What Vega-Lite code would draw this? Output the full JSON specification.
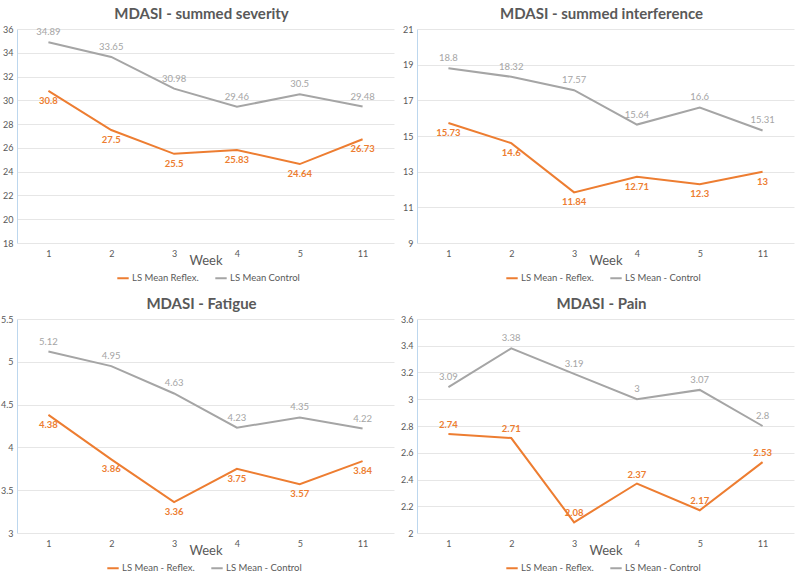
{
  "$schema": "https://vega.github.io/schema/vega-lite/v6.json",
  "background": "white",
  "padding": {"left": 0, "top": 7, "right": 2, "bottom": 4},
  "config": {
    "font": "Lato",
    "view": {"stroke": null},
    "axisY": {"grid": true, "gridColor": "#e6e6e6", "domainColor": "#bdd7ee", "ticks": false, "labelFontSize": 9, "labelColor": "#595959", "labelPadding": 4, "title": null, "format": "~g"},
    "axisX": {"grid": false, "domain": false, "ticks": false, "labelFontSize": 9, "labelColor": "#595959", "labelPadding": 6, "labelAngle": 0, "titleFontSize": 13, "titleFontWeight": "normal", "titleColor": "#595959", "titlePadding": -4},
    "title": {"fontSize": 15, "fontWeight": "bold", "color": "#595959", "offset": 3, "dx": -4},
    "legend": {"orient": "none", "direction": "horizontal", "symbolType": "stroke", "symbolSize": 130, "symbolStrokeWidth": 2, "labelFontSize": 9.5, "labelColor": "#595959", "labelOffset": 2, "title": null, "columnPadding": 12, "legendY": 242}
  },
  "datasets": {
    "mdasi": [
      {"panel": 1, "week": "1", "grp": "Reflex", "series": "LS Mean Reflex.", "value": 30.8},
      {"panel": 1, "week": "2", "grp": "Reflex", "series": "LS Mean Reflex.", "value": 27.5},
      {"panel": 1, "week": "3", "grp": "Reflex", "series": "LS Mean Reflex.", "value": 25.5},
      {"panel": 1, "week": "4", "grp": "Reflex", "series": "LS Mean Reflex.", "value": 25.83},
      {"panel": 1, "week": "5", "grp": "Reflex", "series": "LS Mean Reflex.", "value": 24.64},
      {"panel": 1, "week": "11", "grp": "Reflex", "series": "LS Mean Reflex.", "value": 26.73},
      {"panel": 1, "week": "1", "grp": "Control", "series": "LS Mean Control", "value": 34.89},
      {"panel": 1, "week": "2", "grp": "Control", "series": "LS Mean Control", "value": 33.65},
      {"panel": 1, "week": "3", "grp": "Control", "series": "LS Mean Control", "value": 30.98},
      {"panel": 1, "week": "4", "grp": "Control", "series": "LS Mean Control", "value": 29.46},
      {"panel": 1, "week": "5", "grp": "Control", "series": "LS Mean Control", "value": 30.5},
      {"panel": 1, "week": "11", "grp": "Control", "series": "LS Mean Control", "value": 29.48},
      {"panel": 2, "week": "1", "grp": "Reflex", "series": "LS Mean - Reflex.", "value": 15.73},
      {"panel": 2, "week": "2", "grp": "Reflex", "series": "LS Mean - Reflex.", "value": 14.6},
      {"panel": 2, "week": "3", "grp": "Reflex", "series": "LS Mean - Reflex.", "value": 11.84},
      {"panel": 2, "week": "4", "grp": "Reflex", "series": "LS Mean - Reflex.", "value": 12.71},
      {"panel": 2, "week": "5", "grp": "Reflex", "series": "LS Mean - Reflex.", "value": 12.3},
      {"panel": 2, "week": "11", "grp": "Reflex", "series": "LS Mean - Reflex.", "value": 13},
      {"panel": 2, "week": "1", "grp": "Control", "series": "LS Mean - Control", "value": 18.8},
      {"panel": 2, "week": "2", "grp": "Control", "series": "LS Mean - Control", "value": 18.32},
      {"panel": 2, "week": "3", "grp": "Control", "series": "LS Mean - Control", "value": 17.57},
      {"panel": 2, "week": "4", "grp": "Control", "series": "LS Mean - Control", "value": 15.64},
      {"panel": 2, "week": "5", "grp": "Control", "series": "LS Mean - Control", "value": 16.6},
      {"panel": 2, "week": "11", "grp": "Control", "series": "LS Mean - Control", "value": 15.31},
      {"panel": 3, "week": "1", "grp": "Reflex", "series": "LS Mean - Reflex.", "value": 4.38},
      {"panel": 3, "week": "2", "grp": "Reflex", "series": "LS Mean - Reflex.", "value": 3.86},
      {"panel": 3, "week": "3", "grp": "Reflex", "series": "LS Mean - Reflex.", "value": 3.36},
      {"panel": 3, "week": "4", "grp": "Reflex", "series": "LS Mean - Reflex.", "value": 3.75},
      {"panel": 3, "week": "5", "grp": "Reflex", "series": "LS Mean - Reflex.", "value": 3.57},
      {"panel": 3, "week": "11", "grp": "Reflex", "series": "LS Mean - Reflex.", "value": 3.84},
      {"panel": 3, "week": "1", "grp": "Control", "series": "LS Mean - Control", "value": 5.12},
      {"panel": 3, "week": "2", "grp": "Control", "series": "LS Mean - Control", "value": 4.95},
      {"panel": 3, "week": "3", "grp": "Control", "series": "LS Mean - Control", "value": 4.63},
      {"panel": 3, "week": "4", "grp": "Control", "series": "LS Mean - Control", "value": 4.23},
      {"panel": 3, "week": "5", "grp": "Control", "series": "LS Mean - Control", "value": 4.35},
      {"panel": 3, "week": "11", "grp": "Control", "series": "LS Mean - Control", "value": 4.22},
      {"panel": 4, "week": "1", "grp": "Reflex", "series": "LS Mean - Reflex.", "value": 2.74},
      {"panel": 4, "week": "2", "grp": "Reflex", "series": "LS Mean - Reflex.", "value": 2.71},
      {"panel": 4, "week": "3", "grp": "Reflex", "series": "LS Mean - Reflex.", "value": 2.08},
      {"panel": 4, "week": "4", "grp": "Reflex", "series": "LS Mean - Reflex.", "value": 2.37},
      {"panel": 4, "week": "5", "grp": "Reflex", "series": "LS Mean - Reflex.", "value": 2.17},
      {"panel": 4, "week": "11", "grp": "Reflex", "series": "LS Mean - Reflex.", "value": 2.53},
      {"panel": 4, "week": "1", "grp": "Control", "series": "LS Mean - Control", "value": 3.09},
      {"panel": 4, "week": "2", "grp": "Control", "series": "LS Mean - Control", "value": 3.38},
      {"panel": 4, "week": "3", "grp": "Control", "series": "LS Mean - Control", "value": 3.19},
      {"panel": 4, "week": "4", "grp": "Control", "series": "LS Mean - Control", "value": 3},
      {"panel": 4, "week": "5", "grp": "Control", "series": "LS Mean - Control", "value": 3.07},
      {"panel": 4, "week": "11", "grp": "Control", "series": "LS Mean - Control", "value": 2.8}
    ]
  },
  "concat": [
    {
      "width": 377, "height": 214,
      "title": "MDASI - summed severity",
      "data": {"name": "mdasi"},
      "transform": [{"filter": "datum.panel == 1"}],
      "encoding": {
        "x": {"field": "week", "type": "ordinal", "sort": ["1", "2", "3", "4", "5", "11"], "scale": {"type": "point", "padding": 0.5}, "title": "Week"},
        "y": {"field": "value", "type": "quantitative", "scale": {"domain": [18, 36], "nice": false, "zero": false}, "axis": {"values": [18, 20, 22, 24, 26, 28, 30, 32, 34, 36]}}
      },
      "layer": [
        {"mark": {"type": "line", "strokeWidth": 2}, "encoding": {"color": {"field": "series", "type": "nominal", "scale": {"domain": ["LS Mean Reflex.", "LS Mean Control"], "range": ["#ED7D31", "#A5A5A5"]}, "legend": {"legendX": 99}}}},
        {"transform": [{"filter": "datum.grp == 'Reflex'"}], "mark": {"type": "text", "dy": 10, "fontSize": 9.5, "fontWeight": "bold", "color": "#ED7D31"}, "encoding": {"text": {"field": "value", "type": "quantitative"}}},
        {"transform": [{"filter": "datum.grp == 'Control'"}], "mark": {"type": "text", "dy": -10, "fontSize": 9.5, "color": "#A5A5A5"}, "encoding": {"text": {"field": "value", "type": "quantitative"}}}
      ]
    },
    {
      "width": 377, "height": 214,
      "title": "MDASI - summed interference",
      "data": {"name": "mdasi"},
      "transform": [{"filter": "datum.panel == 2"}],
      "encoding": {
        "x": {"field": "week", "type": "ordinal", "sort": ["1", "2", "3", "4", "5", "11"], "scale": {"type": "point", "padding": 0.5}, "title": "Week"},
        "y": {"field": "value", "type": "quantitative", "scale": {"domain": [9, 21], "nice": false, "zero": false}, "axis": {"values": [9, 11, 13, 15, 17, 19, 21]}}
      },
      "layer": [
        {"mark": {"type": "line", "strokeWidth": 2}, "encoding": {"color": {"field": "series", "type": "nominal", "scale": {"domain": ["LS Mean - Reflex.", "LS Mean - Control"], "range": ["#ED7D31", "#A5A5A5"]}, "legend": {"legendX": 88}}}},
        {"transform": [{"filter": "datum.grp == 'Reflex'"}], "mark": {"type": "text", "dy": 10, "fontSize": 9.5, "fontWeight": "bold", "color": "#ED7D31"}, "encoding": {"text": {"field": "value", "type": "quantitative"}}},
        {"transform": [{"filter": "datum.grp == 'Control'"}], "mark": {"type": "text", "dy": -10, "fontSize": 9.5, "color": "#A5A5A5"}, "encoding": {"text": {"field": "value", "type": "quantitative"}}}
      ]
    },
    {
      "width": 377, "height": 214,
      "title": "MDASI - Fatigue",
      "data": {"name": "mdasi"},
      "transform": [{"filter": "datum.panel == 3"}],
      "encoding": {
        "x": {"field": "week", "type": "ordinal", "sort": ["1", "2", "3", "4", "5", "11"], "scale": {"type": "point", "padding": 0.5}, "title": "Week"},
        "y": {"field": "value", "type": "quantitative", "scale": {"domain": [3, 5.5], "nice": false, "zero": false}, "axis": {"values": [3, 3.5, 4, 4.5, 5, 5.5]}}
      },
      "layer": [
        {"mark": {"type": "line", "strokeWidth": 2}, "encoding": {"color": {"field": "series", "type": "nominal", "scale": {"domain": ["LS Mean - Reflex.", "LS Mean - Control"], "range": ["#ED7D31", "#A5A5A5"]}, "legend": {"legendX": 89}}}},
        {"transform": [{"filter": "datum.grp == 'Reflex'"}], "mark": {"type": "text", "dy": 10, "fontSize": 9.5, "fontWeight": "bold", "color": "#ED7D31"}, "encoding": {"text": {"field": "value", "type": "quantitative"}}},
        {"transform": [{"filter": "datum.grp == 'Control'"}], "mark": {"type": "text", "dy": -10, "fontSize": 9.5, "color": "#A5A5A5"}, "encoding": {"text": {"field": "value", "type": "quantitative"}}}
      ]
    },
    {
      "width": 377, "height": 214,
      "title": "MDASI - Pain",
      "data": {"name": "mdasi"},
      "transform": [{"filter": "datum.panel == 4"}],
      "encoding": {
        "x": {"field": "week", "type": "ordinal", "sort": ["1", "2", "3", "4", "5", "11"], "scale": {"type": "point", "padding": 0.5}, "title": "Week"},
        "y": {"field": "value", "type": "quantitative", "scale": {"domain": [2, 3.6], "nice": false, "zero": false}, "axis": {"values": [2, 2.2, 2.4, 2.6, 2.8, 3, 3.2, 3.4, 3.6]}}
      },
      "layer": [
        {"mark": {"type": "line", "strokeWidth": 2}, "encoding": {"color": {"field": "series", "type": "nominal", "scale": {"domain": ["LS Mean - Reflex.", "LS Mean - Control"], "range": ["#ED7D31", "#A5A5A5"]}, "legend": {"legendX": 88}}}},
        {"transform": [{"filter": "datum.grp == 'Reflex'"}], "mark": {"type": "text", "dy": -9, "fontSize": 9.5, "fontWeight": "bold", "color": "#ED7D31"}, "encoding": {"text": {"field": "value", "type": "quantitative"}}},
        {"transform": [{"filter": "datum.grp == 'Control'"}], "mark": {"type": "text", "dy": -10, "fontSize": 9.5, "color": "#A5A5A5"}, "encoding": {"text": {"field": "value", "type": "quantitative"}}}
      ]
    }
  ],
  "columns": 2,
  "spacing": {"row": 76, "column": 23},
  "bounds": "flush",
  "resolve": {"scale": {"color": "independent", "x": "independent", "y": "independent"}, "legend": {"color": "independent"}}
}
